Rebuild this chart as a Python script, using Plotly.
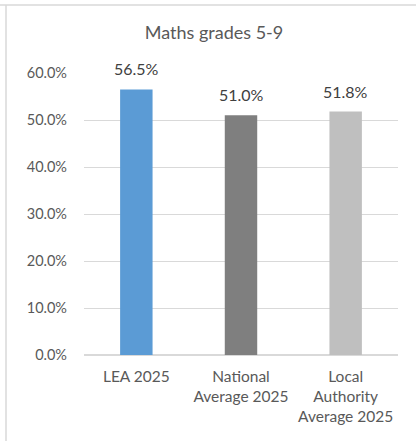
import plotly.graph_objects as go

categories = ["LEA 2025", "National<br>Average 2025", "Local<br>Authority<br>Average 2025"]
values = [0.565, 0.510, 0.518]
labels = ["56.5%", "51.0%", "51.8%"]
colors = ["#5B9BD5", "#7F7F7F", "#BFBFBF"]
title = "Maths grades 5-9"

font_family = "Lato, 'Open Sans', sans-serif"
fig = go.Figure(go.Bar(
    x=categories, y=values, marker=dict(color=colors, line=dict(width=0)),
    width=0.31, hoverinfo="skip"))

for c, v, t in zip(categories, values, labels):
    fig.add_annotation(x=c, y=v, text=t, showarrow=False, yanchor="bottom",
                       yshift=9, font=dict(size=16, color="#404040", family=font_family))

fig.update_layout(
    width=416, height=441,
    margin=dict(l=84, r=18, t=73, b=86),
    paper_bgcolor="white", plot_bgcolor="white",
    showlegend=False,
    title=dict(text=title, x=214/416, xanchor="center", y=1 - 33/441, yanchor="middle",
               font=dict(size=18, color="#595959", family=font_family)),
    font=dict(family=font_family, color="#595959", size=13),
    xaxis=dict(showgrid=False, showline=False, ticks="", ticklabelstandoff=10,
               tickfont=dict(size=15.5, color="#595959")),
    yaxis=dict(range=[0, 0.6], dtick=0.1, tickformat=".1%", showgrid=True,
               gridcolor="#D9D9D9", gridwidth=1, zeroline=True, zerolinecolor="#D9D9D9",
               ticks="", tickfont=dict(size=14.5, color="#595959"), ticklabelstandoff=16),
    shapes=[
        dict(type="line", xref="paper", yref="paper", x0=-84/314, x1=1 + 18/314,
             y0=1 + 68/282, y1=1 + 68/282, line=dict(color="#D9D9D9", width=1.5)),
        dict(type="line", xref="paper", yref="paper", x0=-78/314, x1=-78/314,
             y0=1 + 68/282, y1=-86/282, line=dict(color="#D9D9D9", width=1.5)),
    ],
)
fig.write_html("out.html", config={"displayModeBar": False},
               post_script="document.body.style.margin='0';document.body.style.padding='0';")
